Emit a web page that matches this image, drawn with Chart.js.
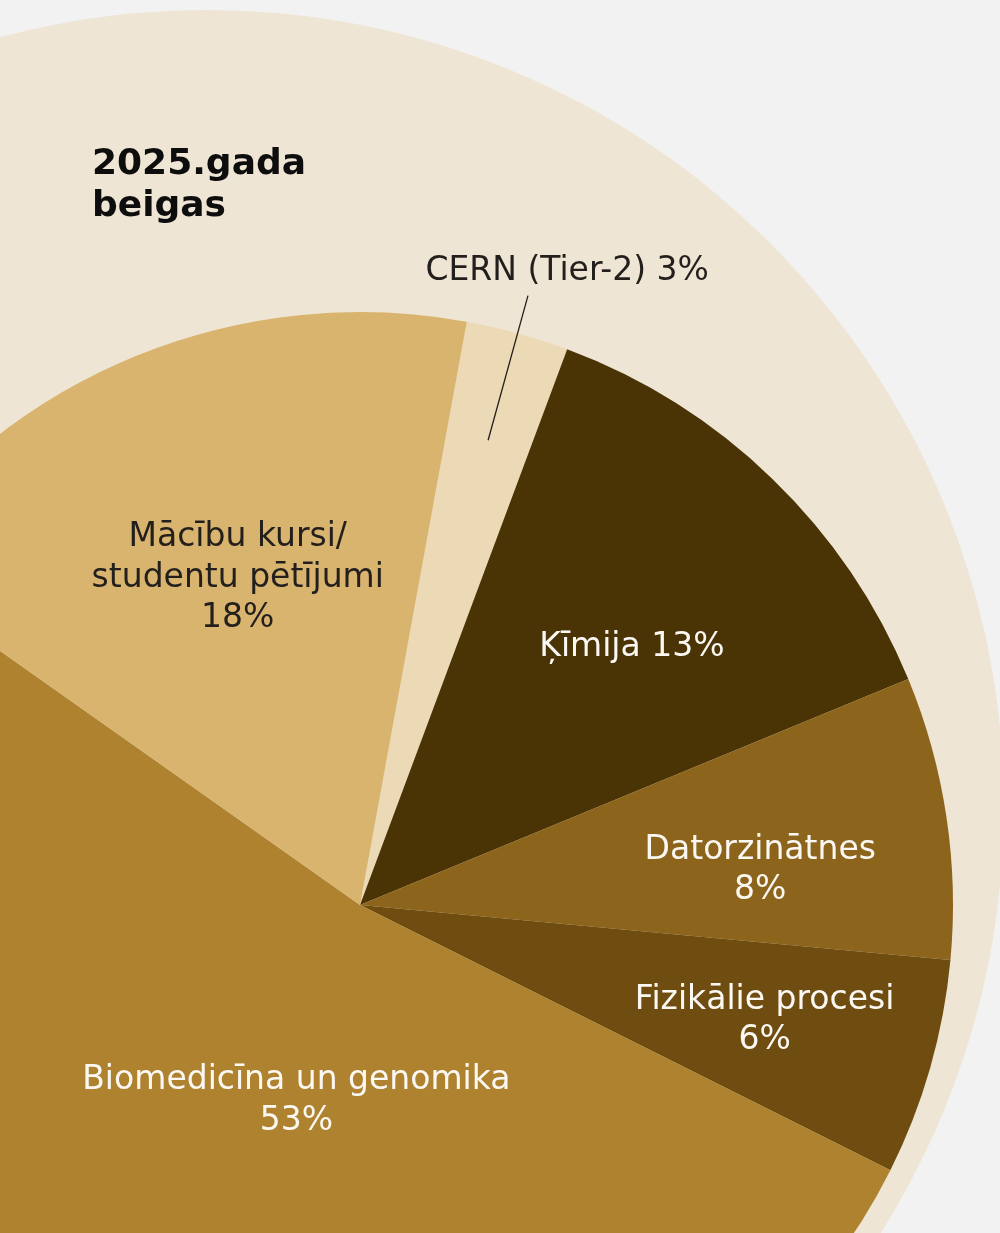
<!DOCTYPE html>
<html lang="lv">
<head>
<meta charset="utf-8">
<title>2025.gada beigas</title>
<script src="https://cdn.jsdelivr.net/npm/chart.js@4.4.1/dist/chart.umd.min.js"></script>
<style>
  html, body {
    margin: 0;
    padding: 0;
    width: 1000px;
    height: 1233px;
    overflow: hidden;
    background: #f2f2f2;
  }
  #backdrop {
    position: absolute;
    left: -590px;
    top: 10px;
    width: 1594px;
    height: 1594px;
    border-radius: 50%;
    background: #efe5d5;
  }
  #title {
    position: absolute;
    left: 92px;
    top: 141px;
    font: bold 36px "DejaVu Sans", sans-serif;
    line-height: 42px;
    color: #0d0d0d;
  }
  #chart-wrap {
    position: absolute;
    left: -240px;
    top: 0;
    width: 1200px;
    height: 1505px;
  }
</style>
</head>
<body>
<div id="backdrop"></div>
<div id="chart-wrap"><canvas id="share-chart"></canvas></div>
<div id="title">2025.gada<br>beigas</div>
<script>
const categories = [
  "CERN (Tier-2)",
  "Ķīmija",
  "Datorzinātnes",
  "Fizikālie procesi",
  "Biomedicīna un genomika",
  ["Mācību kursi/", "studentu pētījumi"],
];
// slice sizes as measured on the picture (percent of the pie)
const shares = [2.8, 13.1, 7.7, 5.9, 52.4, 18.1];
// published, rounded shares shown in the labels
const shareLabels = ["3%", "13%", "8%", "6%", "53%", "18%"];

const sliceColors = ["#ecd9b5", "#4a3304", "#8c641c", "#6f4d10", "#ae822f", "#d9b46f"];
const DARK = "#231f1c";
const LIGHT = "#fbf8f3";

// where each label sits: fraction of the radius, turn (deg) from the slice middle
const labelSpots = [
  { dist: 1.13, turn: 2.6, inline: true, color: DARK, leader: [0.813, 1.066] },
  { dist: 0.635, turn: 2.2, inline: true, color: LIGHT },
  { dist: 0.678, turn: 3.1, color: LIGHT },
  { dist: 0.708, turn: -0.45, color: LIGHT },
  { dist: 0.342, turn: -12.6, color: LIGHT },
  { dist: 0.594, turn: 1.9, color: DARK },
];

const FONT_SIZE = 33;
const LINE_GAP = 40.5;

const sliceLabels = {
  id: "sliceLabels",
  afterDatasetsDraw(chart) {
    const ctx = chart.ctx;
    const meta = chart.getDatasetMeta(0);
    meta.data.forEach((arc, i) => {
      const p = arc.getProps(["x", "y", "startAngle", "endAngle", "outerRadius"], true);
      const spot = labelSpots[i];
      const mid = (p.startAngle + p.endAngle) / 2;

      ctx.save();
      if (spot.leader) {
        const [r1, r2] = spot.leader;
        ctx.strokeStyle = DARK;
        ctx.lineWidth = 1.3;
        ctx.beginPath();
        ctx.moveTo(p.x + Math.cos(mid) * p.outerRadius * r1, p.y + Math.sin(mid) * p.outerRadius * r1);
        ctx.lineTo(p.x + Math.cos(mid) * p.outerRadius * r2, p.y + Math.sin(mid) * p.outerRadius * r2);
        ctx.stroke();
      }

      const a = mid + (spot.turn * Math.PI) / 180;
      const cx = p.x + Math.cos(a) * p.outerRadius * spot.dist;
      const cy = p.y + Math.sin(a) * p.outerRadius * spot.dist;

      let lines = [].concat(categories[i]);
      if (spot.inline) {
        lines[lines.length - 1] += " " + shareLabels[i];
      } else {
        lines.push(shareLabels[i]);
      }

      ctx.fillStyle = spot.color;
      ctx.font = `${FONT_SIZE}px "DejaVu Sans", sans-serif`;
      ctx.textAlign = "center";
      ctx.textBaseline = "alphabetic";
      lines.forEach((line, k) => {
        const lineY = cy + (k - (lines.length - 1) / 2) * LINE_GAP;
        ctx.fillText(line, cx, lineY + FONT_SIZE * 0.36);
      });
      ctx.restore();
    });
  },
};

new Chart(document.getElementById("share-chart"), {
  type: "pie",
  data: {
    labels: categories,
    datasets: [
      {
        data: shares,
        backgroundColor: sliceColors,
        borderWidth: 0,
        hoverOffset: 0,
      },
    ],
  },
  options: {
    responsive: true,
    maintainAspectRatio: false,
    animation: false,
    rotation: 10.37,
    layout: {
      padding: { top: 312, left: 7, right: 7, bottom: 7 },
    },
    plugins: {
      legend: { display: false },
      tooltip: { enabled: false },
    },
  },
  plugins: [sliceLabels],
});
</script>
</body>
</html>
